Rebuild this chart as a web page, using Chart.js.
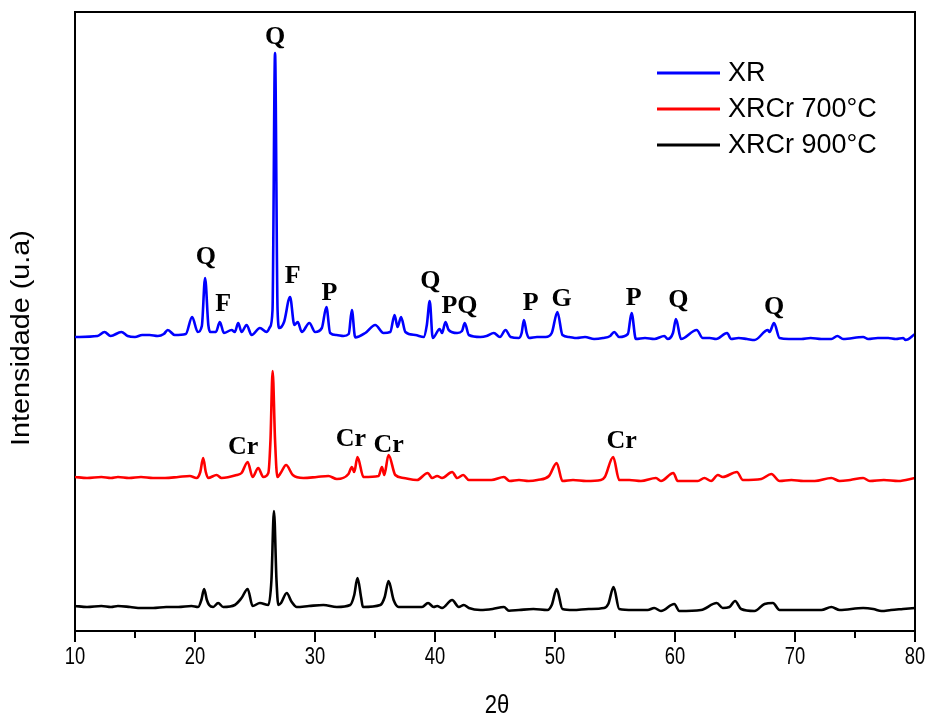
<!DOCTYPE html>
<html>
<head>
<meta charset="utf-8">
<title>DRX</title>
<script src="https://cdn.jsdelivr.net/npm/chart.js@4/dist/chart.umd.min.js"></script>
<style>
  body { margin: 0; background: #fff; }
  #xrd-chart { display: block; }
</style>
</head>
<body>
<canvas id="xrd-chart" width="928" height="720"></canvas>
<script>
// Query Selectors
const xrdChart = document.querySelector("#xrd-chart");

// Series names and colours
const seriesLabels = ["XR", "XRCr 700°C", "XRCr 900°C"];
const seriesColors = ["#0000FF", "#FF0000", "#000000"];
// vertical shift of each pattern (a.u.)
const seriesOffsets = [290, 148, 20];

// XR pattern
const xrTheta = [10.0, 11.88, 12.46, 12.97, 13.86, 14.39, 15.0, 15.6, 16.22, 16.9, 17.4, 17.73, 18.31, 19.23, 19.76, 20.23, 20.57, 20.84, 21.11, 21.28, 21.74, 22.07, 22.41, 23.05, 23.32, 23.6, 23.88, 24.3, 24.72, 25.41, 25.97, 26.25, 26.46, 26.67, 26.88, 27.03, 27.42, 27.92, 28.28, 28.56, 28.9, 29.53, 30.01, 30.57, 30.95, 31.26, 31.8, 32.37, 32.81, 33.07, 33.35, 34.19, 35.02, 35.71, 36.27, 36.63, 36.88, 37.17, 37.53, 38.36, 39.06, 39.32, 39.56, 39.81, 40.39, 40.59, 40.87, 41.14, 41.85, 42.25, 42.48, 42.82, 43.79, 44.3, 44.9, 45.41, 45.88, 46.3, 46.99, 47.22, 47.41, 47.64, 47.83, 48.5, 49.22, 49.73, 50.2, 50.62, 51.17, 51.8, 52.5, 53.26, 54.0, 54.6, 54.93, 55.35, 56.07, 56.38, 56.74, 57.5, 58.27, 59.11, 59.39, 59.83, 60.08, 60.5, 61.81, 62.31, 62.9, 63.43, 64.34, 64.68, 65.3, 66.0, 66.63, 67.74, 67.88, 68.25, 68.71, 69.5, 70.53, 71.3, 72.2, 73.03, 73.53, 74.01, 75.68, 76.1, 76.9, 77.77, 78.4, 79.02, 79.21, 80.0];
const xrIntensity = [4, 5, 9, 5, 9, 5, 4, 6, 6, 5, 7, 11, 6, 7, 24, 9, 15, 63, 16, 9, 9, 19, 8, 11, 9, 18, 9, 16, 6, 13, 9, 14, 31, 288, 31, 13, 19, 44, 16, 19, 9, 18, 9, 13, 34, 8, 6, 5, 7, 31, 3.5, 8, 16, 8, 9, 26, 14, 24, 9, 6, 4, 16, 40, 3, 12, 8, 19, 11, 8, 10, 18, 6, 4, 5, 8, 4, 11, 4, 3, 8, 21, 8, 3, 4, 4, 8, 29, 6, 4, 3, 4, 2, 3, 5, 9, 4, 7, 28, 2, 3, 2, 5, 2, 8, 22, 2, 11, 3, 3, 2, 8, 2, 3, 2, 1, 11, 9, 18, 3, 2, 2, 3, 2, 2, 5, 2, 4, 2, 3, 3, 2, 3, 1, 7];

// XRCr 700°C pattern
const cr700Theta = [10.0, 11.0, 12.2, 13.0, 13.58, 14.5, 15.5, 16.5, 17.5, 18.6, 19.57, 20.13, 20.44, 20.68, 20.9, 21.09, 21.8, 22.21, 23.47, 23.88, 24.39, 24.8, 25.27, 25.69, 26.11, 26.29, 26.47, 26.67, 26.86, 27.14, 27.59, 28.15, 29.03, 30.15, 31.12, 31.82, 32.79, 33.07, 33.27, 33.54, 34.04, 35.3, 35.58, 35.77, 36.13, 36.69, 37.39, 38.5, 39.39, 39.76, 40.18, 40.59, 41.43, 41.85, 42.35, 42.82, 43.79, 44.7, 45.74, 46.22, 47.0, 47.8, 48.53, 49.5, 50.14, 50.62, 51.5, 52.6, 53.82, 54.15, 54.85, 55.35, 56.2, 57.16, 58.41, 58.83, 59.86, 60.23, 61.9, 62.45, 63.01, 63.57, 63.98, 65.16, 65.66, 67.19, 68.03, 68.71, 69.7, 70.7, 71.64, 73.03, 73.72, 74.6, 75.68, 76.23, 77.4, 78.61, 80.0];
const cr700Intensity = [6, 5, 6, 5, 6, 5, 6, 5, 5, 6, 7, 5, 11, 25, 11, 5, 8, 5, 8, 10, 21, 6, 15, 6, 10, 43, 112, 43, 6, 10, 18, 8, 5, 6, 7, 4, 9, 16, 11, 26, 6, 7, 16, 8, 28, 8, 5, 3, 10, 5, 7, 5, 11, 5, 8, 3, 3, 3, 6, 2, 3, 2, 3, 7, 20, 2, 3, 2, 3, 6, 26, 3, 3, 2, 5, 2, 10, 2, 2, 5, 2, 8, 6, 11, 3, 4, 9, 2, 3, 2, 2, 5, 2, 3, 5, 2, 3, 2, 5];

// XRCr 900°C pattern
const cr900Theta = [10.0, 11.0, 12.2, 13.0, 13.58, 14.6, 15.5, 16.5, 17.6, 18.6, 19.71, 20.26, 20.53, 20.76, 20.99, 21.18, 21.51, 21.93, 22.35, 23.32, 23.88, 24.39, 24.8, 25.41, 26.11, 26.37, 26.58, 26.79, 26.94, 27.17, 27.64, 28.06, 28.48, 29.5, 30.7, 31.82, 32.93, 33.27, 33.54, 33.85, 33.99, 35.44, 35.81, 36.13, 36.55, 36.97, 38.92, 39.42, 39.89, 40.18, 40.59, 41.43, 41.98, 42.4, 42.82, 43.79, 44.8, 45.74, 46.16, 47.0, 48.2, 49.37, 49.73, 50.14, 50.62, 51.5, 52.8, 54.09, 54.44, 54.88, 55.35, 56.5, 57.72, 58.27, 58.83, 59.94, 60.36, 62.17, 63.48, 63.98, 64.54, 65.01, 65.51, 66.62, 67.46, 68.16, 68.71, 69.8, 71.0, 72.2, 73.03, 73.72, 75.68, 76.52, 77.21, 78.0, 79.0, 80.0];
const cr900Intensity = [5, 4, 5, 4, 5, 4, 3, 3, 4, 4, 5, 4, 11, 22, 11, 6, 4, 8, 4, 6, 13, 22, 5, 8, 6, 31, 100, 31, 6, 8, 18, 9, 4, 5, 6, 4, 6, 16, 33, 13, 4, 6, 14, 30, 11, 4, 4, 8, 4, 5, 3, 11, 4, 6, 3, 1, 2, 4, 0.3, 1, 2, 1, 6, 22, 2, 1, 2, 3, 7, 24, 2, 1, 1, 3, 0, 7, 0, 1, 8, 3, 4, 10, 2, 0, 7, 8, 1, 1, 1, 1, 4, 1, 3, 2, 0, 1, 2, 3];

// Phase labels (text, 2θ, height of baseline on the plot scale)
const phaseLabels = ["Q", "Q", "F", "F", "P", "Q", "PQ", "P", "G", "P", "Q", "Q", "Cr", "Cr", "Cr", "Cr"];
const phaseTheta = [26.67, 20.9, 22.35, 28.15, 31.2, 39.62, 42.04, 47.97, 50.56, 56.55, 60.28, 68.25, 24.02, 32.99, 36.13, 55.55];
const phaseHeight = [587, 367, 320, 348, 331, 343, 318, 321, 325, 326, 324, 317, 177, 185, 179, 183];

// x axis ticks
const majorTicks = [10, 20, 30, 40, 50, 60, 70, 80];
const minorTicks = [15, 25, 35, 45, 55, 65, 75];

// Axis titles
const xTitle = "2θ";
const yTitle = "Intensidade (u.a)";

// Build a dataset from one pattern
const buildSeries = (theta, intensity, index) => {
  return {
    label: seriesLabels[index],
    data: theta.map((t, i) => ({ x: t, y: intensity[i] + seriesOffsets[index] })),
    borderColor: seriesColors[index],
    backgroundColor: seriesColors[index],
    borderWidth: 2.6,
    pointRadius: 0,
    cubicInterpolationMode: "monotone",
    fill: false,
  };
};

// Draw text squeezed horizontally (the original uses a condensed face)
const squeezedText = (ctx, txt, x, y, sx) => {
  ctx.save();
  ctx.translate(x, y);
  ctx.scale(sx, 1);
  ctx.fillText(txt, 0, 0);
  ctx.restore();
};

// Frame, ticks labels, titles, phase labels and legend
const decorPlugin = {
  id: "decor",
  afterDraw(chart) {
    const ctx = chart.ctx;
    const area = chart.chartArea;
    const xScale = chart.scales.x;
    const yScale = chart.scales.y;

    ctx.save();
    ctx.strokeStyle = "#000";
    ctx.lineWidth = 2;
    ctx.beginPath();
    ctx.moveTo(area.left - 1, area.top);
    ctx.lineTo(area.right, area.top);
    ctx.lineTo(area.right, area.bottom + 1);
    ctx.stroke();

    // minor ticks
    minorTicks.forEach((t) => {
      const px = Math.round(xScale.getPixelForValue(t));
      ctx.beginPath();
      ctx.moveTo(px, area.bottom);
      ctx.lineTo(px, area.bottom + 7);
      ctx.stroke();
    });

    // tick labels and x title
    ctx.fillStyle = "#000";
    ctx.textAlign = "center";
    ctx.textBaseline = "middle";
    ctx.font = "23px 'Liberation Sans', Arial, sans-serif";
    xScale.ticks.forEach((tk) => {
      squeezedText(ctx, String(tk.value), xScale.getPixelForValue(tk.value), 658, 0.8);
    });
    ctx.font = "26px 'Liberation Sans', Arial, sans-serif";
    squeezedText(ctx, xTitle, (area.left + area.right) / 2 + 2, 706, 0.85);

    // y title, rotated
    ctx.save();
    ctx.translate(22, 338);
    ctx.rotate(-Math.PI / 2);
    ctx.scale(1.15, 1);
    ctx.font = "25px 'Liberation Sans', Arial, sans-serif";
    ctx.fillText(yTitle, 0, 0);
    ctx.restore();

    // phase labels
    ctx.font = "bold 26px 'Liberation Serif', 'Times New Roman', serif";
    ctx.textAlign = "center";
    ctx.textBaseline = "alphabetic";
    phaseLabels.forEach((txt, i) => {
      ctx.fillText(txt, xScale.getPixelForValue(phaseTheta[i]), yScale.getPixelForValue(phaseHeight[i]));
    });

    // legend
    ctx.font = "27px 'Liberation Sans', Arial, sans-serif";
    ctx.textAlign = "left";
    ctx.textBaseline = "middle";
    chart.data.datasets.forEach((ds, i) => {
      const y = 73 + i * 36;
      ctx.strokeStyle = ds.borderColor;
      ctx.lineWidth = 3;
      ctx.beginPath();
      ctx.moveTo(657, y);
      ctx.lineTo(720, y);
      ctx.stroke();
      ctx.fillStyle = "#000";
      ctx.fillText(ds.label, 728, y + 1);
    });
    ctx.restore();
  },
};

// Renders the chart
const renderChart = () => {
  new Chart(xrdChart, {
    type: "line",
    data: {
      datasets: [
        buildSeries(xrTheta, xrIntensity, 0),
        buildSeries(cr700Theta, cr700Intensity, 1),
        buildSeries(cr900Theta, cr900Intensity, 2),
      ],
    },
    options: {
      responsive: false,
      animation: false,
      devicePixelRatio: 1,
      layout: { padding: { top: 12, right: 13, left: 0, bottom: 0 } },
      plugins: {
        legend: { display: false },
        tooltip: { enabled: false },
      },
      scales: {
        x: {
          type: "linear",
          min: 10,
          max: 80,
          afterFit: (scale) => {
            scale.height = 89;
          },
          afterBuildTicks: (scale) => {
            scale.ticks = majorTicks.map((v) => ({ value: v }));
          },
          grid: {
            drawOnChartArea: false,
            drawTicks: true,
            tickLength: 11,
            color: "#000",
            lineWidth: 2,
          },
          border: { display: true, color: "#000", width: 2 },
          ticks: { display: false },
          title: { display: false },
        },
        y: {
          min: 0,
          max: 619,
          afterFit: (scale) => {
            scale.width = 75;
          },
          grid: { drawOnChartArea: false, drawTicks: false },
          border: { display: true, color: "#000", width: 2 },
          ticks: { display: false },
          title: { display: false },
        },
      },
    },
    plugins: [decorPlugin],
  });
};

document.addEventListener("DOMContentLoaded", () => {
  renderChart();
});
</script>
</body>
</html>
